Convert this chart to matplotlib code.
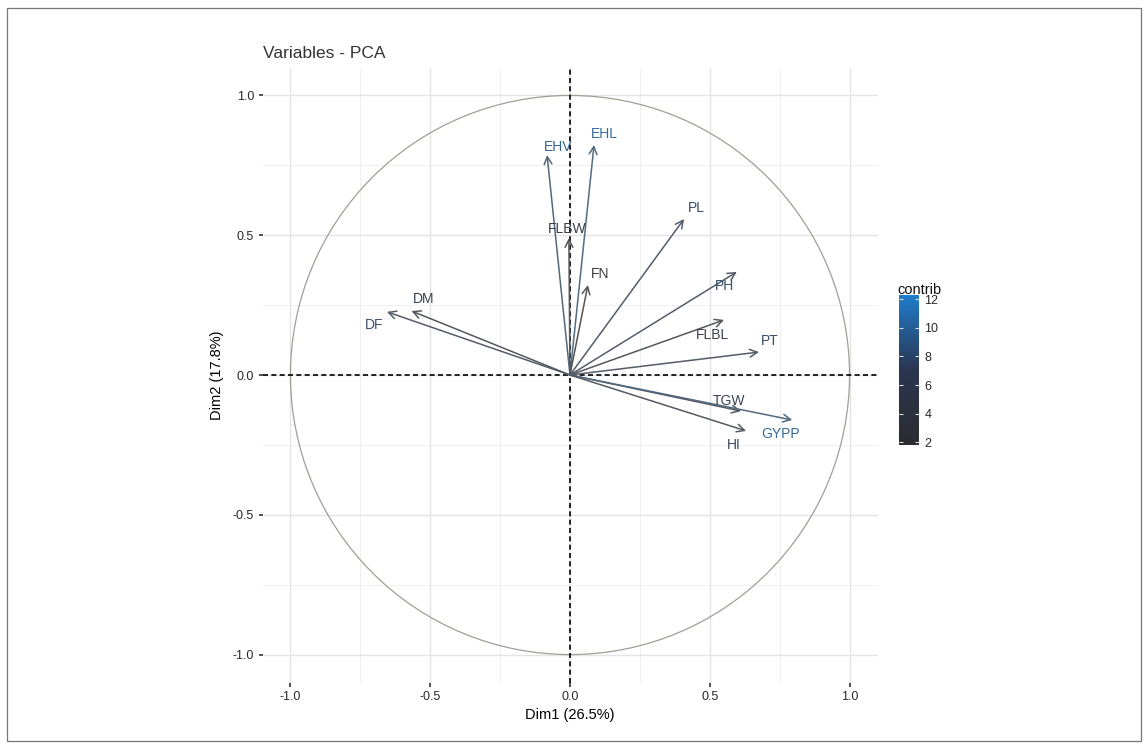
import numpy as np
import matplotlib
matplotlib.use('Agg')
import matplotlib.pyplot as plt
from matplotlib.colors import LinearSegmentedColormap, Normalize, to_rgb
from matplotlib.cm import ScalarMappable
from matplotlib.patches import Circle, Rectangle

plt.rcParams['font.family'] = ['Liberation Sans', 'DejaVu Sans']

# variable loadings on Dim1 / Dim2
variables = ['EHV', 'EHL', 'FLBW', 'FN', 'PL', 'PH', 'FLBL', 'PT', 'TGW', 'GYPP', 'HI', 'DM', 'DF']
dim1 = [-0.082, 0.086, -0.004, 0.064, 0.408, 0.597, 0.551, 0.676, 0.612, 0.795, 0.630, -0.567, -0.655]
dim2 = [0.787, 0.823, 0.490, 0.322, 0.558, 0.369, 0.197, 0.082, -0.129, -0.161, -0.200, 0.229, 0.226]
contrib = [10.9, 11.9, 4.2, 1.9, 8.3, 8.5, 5.9, 8.1, 6.8, 11.5, 7.6, 6.5, 8.3]
# label offsets from arrow tip, in pixels
label_dx = [11, 10, -2, 12, 12, -12, -12, 11, -12, -12, -12, 12, -13]
label_dy = [8, 11, 9, 11, 11, -14, -15, 11, 10, -14, -14, 12, -13]

ticks = [-1.0, -0.5, 0.0, 0.5, 1.0]
minor_ticks = [-0.75, -0.25, 0.25, 0.75]
cbar_ticks = [2, 4, 6, 8, 10, 12]

W, H = 1148, 749
fig = plt.figure(figsize=(W / 100, H / 100), dpi=100)

# thin frame around the figure
fig.patches.append(Rectangle((7 / W, 1 - 741 / H), (1141 - 7) / W, (741 - 8) / H,
                             transform=fig.transFigure, fill=False,
                             edgecolor='#777777', linewidth=0.9))

ax = fig.add_axes([262.5 / W, 1 - 682.5 / H, 615 / W, 615 / H])
ax.set_xlim(-1.1, 1.1)
ax.set_ylim(-1.1, 1.1)
for s in ax.spines.values():
    s.set_visible(False)

ax.set_xticks(ticks)
ax.set_yticks(ticks)
ax.set_xticks(minor_ticks, minor=True)
ax.set_yticks(minor_ticks, minor=True)
ax.set_xticklabels(['%.1f' % t for t in ticks])
ax.set_yticklabels(['%.1f' % t for t in ticks])
ax.tick_params(which='major', length=3, width=1.2, color='#333333',
               labelsize=9, labelcolor='#2a2a2a', pad=3)
ax.tick_params(which='minor', length=0)
ax.grid(which='major', color='#e4e4e4', linewidth=1.0)
ax.grid(which='minor', color='#eeeeee', linewidth=0.6)
ax.set_axisbelow(True)

ax.set_xlabel('Dim1 (26.5%)', fontsize=10.5, color='black', labelpad=4)
ax.set_ylabel('Dim2 (17.8%)', fontsize=10.5, color='black', labelpad=6)

ax.add_patch(Circle((0, 0), 1.0, fill=False, edgecolor='#a19e96', linewidth=0.9, zorder=2))
ax.axhline(0, color='black', linewidth=1.2, linestyle=(0, (3, 2)), zorder=3)
ax.axvline(0, color='black', linewidth=1.2, linestyle=(0, (3, 2)), zorder=3)

cmap = LinearSegmentedColormap.from_list('contrib', ['#2c2c30', '#2a3550', '#1f7ccb'])
norm = Normalize(vmin=1.8, vmax=12.3)


def blend(col, grey, w):
    r = np.array(to_rgb(col))
    g = np.array(to_rgb(grey))
    return tuple(r * (1 - w) + g * w)


for name, x, y, c, dx, dy in zip(variables, dim1, dim2, contrib, label_dx, label_dy):
    col = cmap(norm(c))
    ax.annotate('', xy=(x, y), xytext=(0, 0),
                arrowprops=dict(arrowstyle='->,head_length=0.55,head_width=0.28',
                                color=blend(col, '#666666', 0.7), linewidth=1.1,
                                shrinkA=0, shrinkB=0), zorder=4)
    ax.annotate(name, xy=(x, y), xytext=(dx, dy), textcoords='offset pixels',
                ha='center', va='center', fontsize=10, color=blend(col, '#5a5a5a', 0.35),
                zorder=5)

fig.text(263 / W, 1 - 58 / H, 'Variables - PCA', fontsize=12.5, color='#333333',
         ha='left', va='baseline')

# colour bar
cax = fig.add_axes([899 / W, 1 - 445 / H, 20 / W, 150 / H])
cb = fig.colorbar(ScalarMappable(norm=norm, cmap=cmap), cax=cax, ticks=cbar_ticks)
cb.outline.set_visible(False)
cax.tick_params(which='major', direction='in', color='#dddddd', length=3, width=0.8,
                left=True, right=True, labelsize=9, labelcolor='#2a2a2a', pad=4)
cax.minorticks_off()
fig.text(897 / W, 1 - 290 / H, 'contrib', fontsize=10.5, color='#111111',
         ha='left', va='center')

fig.savefig('out.png', dpi=100)
